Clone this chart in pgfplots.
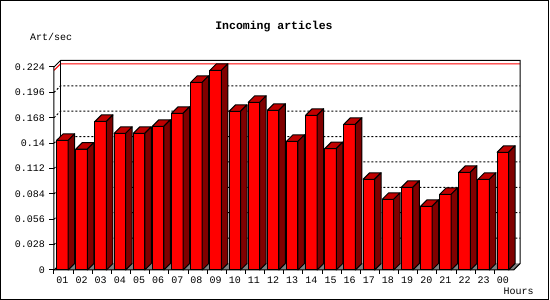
\documentclass[border=0pt]{standalone}
\usepackage{fontspec}
\setmainfont{Liberation Mono}
\usepackage{pgfplots}
\usepackage{pgfplotstable}
\pgfplotsset{compat=1.18}
\definecolor{frontred}{RGB}{255,0,0}
\definecolor{sidered}{RGB}{128,0,0}
\definecolor{topred}{RGB}{192,0,0}
\definecolor{floorgray}{RGB}{128,128,128}
\pgfdeclareplotmark{nothing}{}

\pgfplotstableread{
x     y
0.44  0.1431
1.44  0.1335
2.44  0.1640
3.44  0.1508
4.44  0.1508
5.44  0.1586
6.44  0.1729
7.44  0.2071
8.44  0.2203
9.44  0.1751
10.44 0.1850
11.44 0.1762
12.44 0.1420
13.44 0.1707
14.44 0.1340
15.44 0.1608
16.44 0.1001
17.44 0.0780
18.44 0.0913
19.44 0.0703
20.44 0.0835
21.44 0.1078
22.44 0.1001
23.44 0.1299
}\datatable

\begin{document}
\begin{tikzpicture}
\path[use as bounding box] (0pt,0pt) rectangle (550pt,300pt);
\draw[line width=1pt] (0.5pt,0.5pt) rectangle (548.5pt,299.5pt);
\node[inner sep=0pt,font=\fontsize{11.5}{13}\selectfont\bfseries] at (274pt,273pt) {Incoming articles};
\node[anchor=west,inner sep=0pt,font=\fontsize{10}{12}\selectfont] at (30pt,263.3pt) {Art/sec};
\node[inner sep=0pt,font=\fontsize{10}{12}\selectfont] at (518.7pt,8.3pt) {Hours};
\begin{axis}[
  at={(54pt,30pt)}, anchor=south west,
  scale only axis, width=459.6pt, height=203pt,
  xmin=0, xmax=24, ymin=0, ymax=0.224,
  clip=false,
  axis line style={draw=none},
  major tick length=0pt, tick style={draw=none},
  ytick={0,0.028,0.056,0.084,0.112,0.14,0.168,0.196,0.224},
  yticklabels={0,0.028,0.056,0.084,0.112,0.14,0.168,0.196,0.224},
  xtick={0.44,1.44,2.44,3.44,4.44,5.44,6.44,7.44,8.44,9.44,10.44,11.44,12.44,13.44,14.44,15.44,16.44,17.44,18.44,19.44,20.44,21.44,22.44,23.44},
  xticklabels={01,02,03,04,05,06,07,08,09,10,11,12,13,14,15,16,17,18,19,20,21,22,23,00},
  yticklabel style={anchor=east, inner sep=0pt, xshift=-9pt},
  xticklabel style={anchor=center, inner sep=0pt, yshift=-10pt},
  tick label style={font=\fontsize{10}{12}\selectfont},
]
% floor
\fill[floorgray] (axis cs:0,0) -- (axis cs:24,0) -- ([shift={(6.5pt,6.5pt)}]axis cs:24,0) -- ([shift={(6.5pt,6.5pt)}]axis cs:0,0) -- cycle;
% grid on back wall
\pgfplotsinvokeforeach{0.028,0.056,0.084,0.112,0.14,0.168,0.196}{
  \draw[line width=1pt, dash pattern=on 2pt off 2pt] (axis cs:0,#1) -- ([shift={(6.5pt,6.5pt)}]axis cs:0,#1) -- ([shift={(6.5pt,6.5pt)}]axis cs:24,#1);
}
% max line
\draw[red, line width=1pt] (axis cs:0,0.2203) -- ([shift={(6.5pt,6.5pt)}]axis cs:0,0.2203) -- ([shift={(6.5pt,6.5pt)}]axis cs:24,0.2203);
% frame
\draw[line width=1pt] ([shift={(6.5pt,6.5pt)}]axis cs:0,0) -- ([shift={(6.5pt,6.5pt)}]axis cs:0,0.224);
\draw[line width=1pt] (axis cs:0,0) -- ([shift={(6.5pt,6.5pt)}]axis cs:0,0);
\draw[line width=1pt] (axis cs:0,0) -- (axis cs:0,0.224) -- ([shift={(6.5pt,6.5pt)}]axis cs:0,0.224) -- ([shift={(6.5pt,6.5pt)}]axis cs:24,0.224) -- ([shift={(6.5pt,6.5pt)}]axis cs:24,0) -- (axis cs:24,0) -- cycle;
% ticks
\pgfplotsinvokeforeach{0,0.028,0.056,0.084,0.112,0.14,0.168,0.196,0.224}{
  \draw[line width=1pt] (axis cs:0,#1) -- ++(-5pt,0pt);
}
\pgfplotsinvokeforeach{0,...,23}{
  \draw[line width=1pt] (axis cs:#1,0) -- ++(0pt,-4pt);
}
% front faces
\addplot[ybar, bar width=11.5pt, bar shift=0pt, fill=frontred, draw=black, line width=1pt] table[x=x,y=y]{\datatable};
% side and top faces
\addplot[scatter, only marks, mark=nothing,
  visualization depends on={\thisrow{y} \as \yv},
  scatter/@pre marker code/.code={%
    \pgfmathsetmacro\hA{-\yv*203/0.224}%
    \pgfmathsetmacro\hB{6.5-\yv*203/0.224}%
    \draw[line width=1pt, fill=topred, line join=round] (-5.75pt,0pt) -- (5.75pt,0pt) -- (12.25pt,6.5pt) -- (0.75pt,6.5pt) -- cycle;
    \draw[line width=1pt, fill=sidered, line join=round] (5.75pt,0pt) -- (12.25pt,6.5pt) -- (12.25pt,\hB pt) -- (5.75pt,\hA pt) -- cycle;
  },
  scatter/@post marker code/.code={},
] table[x=x,y=y]{\datatable};
\end{axis}
\end{tikzpicture}
\end{document}
